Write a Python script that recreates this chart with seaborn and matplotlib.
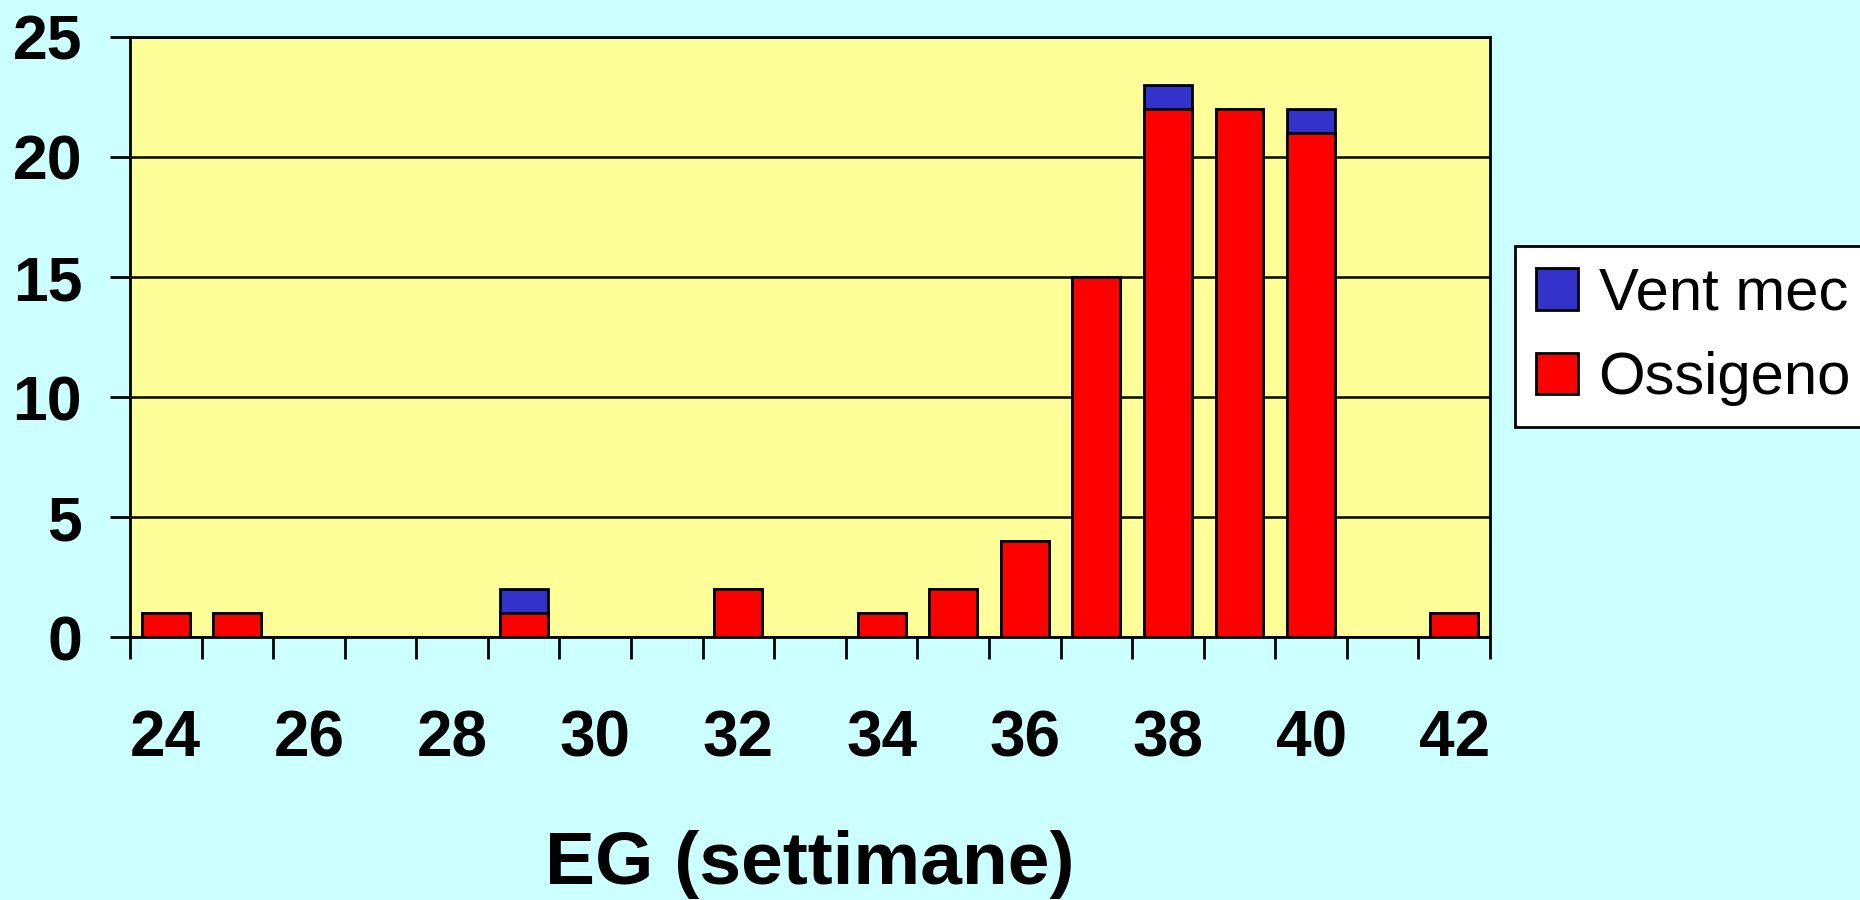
import pandas as pd
import numpy as np
import matplotlib
matplotlib.use("Agg")
import matplotlib.pyplot as plt
import seaborn as sns
from matplotlib.patches import Patch

# Data
settimane = list(range(24, 43))
ossigeno = [1, 1, 0, 0, 0, 1, 0, 0, 2, 0, 1, 2, 4, 15, 22, 22, 21, 0, 1]
vent_mec = [0, 0, 0, 0, 0, 1, 0, 0, 0, 0, 0, 0, 0, 0, 1, 0, 1, 0, 0]
tick_labels = [str(w) for w in settimane[::2]]

df = pd.DataFrame({
    'EG': [str(w) for w in settimane],
    'Ossigeno': ossigeno,
    'Vent mec': vent_mec,
})
df['Totale'] = df['Ossigeno'] + df['Vent mec']

sns.set_theme(style="white")
plt.rcParams['font.family'] = ['Liberation Sans', 'DejaVu Sans']
plt.rcParams['text.color'] = 'black'
plt.rcParams['axes.labelcolor'] = 'black'
plt.rcParams['xtick.color'] = 'black'
plt.rcParams['ytick.color'] = 'black'

fig = plt.figure(figsize=(18.6, 9), dpi=100, facecolor='#CCFFFF')
ax = fig.add_axes([0.0699, 0.2922, 0.7312, 0.6667])
ax.set_facecolor('#FFFF99')

order = df['EG'].tolist()
# stacked: draw total in blue, then oxygen on top in red
sns.barplot(data=df, x='EG', y='Totale', order=order, color='#3333CC',
            width=0.67, edgecolor='black', linewidth=2, saturation=1, ax=ax, zorder=3)
sns.barplot(data=df, x='EG', y='Ossigeno', order=order, color='#FF0000',
            width=0.67, edgecolor='black', linewidth=2, saturation=1, ax=ax, zorder=4)

# hide zero-height bars' outlines
for p in ax.patches:
    if p.get_height() == 0:
        p.set_visible(False)

ax.set_xlim(-0.5, len(order) - 0.5)
ax.set_ylim(0, 25)
ax.set_yticks(range(0, 26, 5))
ax.yaxis.grid(True, color='black', linewidth=1.8, zorder=1)
ax.set_axisbelow(True)

ax.set_xticks(np.arange(-0.5, len(order), 1.0))
ax.set_xticklabels([])
ax.set_xticks(np.arange(0, len(order), 2), minor=True)
ax.set_xticklabels(tick_labels, minor=True)
ax.tick_params(axis='x', which='major', direction='out', length=16, width=2, bottom=True)
ax.tick_params(axis='x', which='minor', length=0, pad=52, labelsize=46)
ax.tick_params(axis='y', direction='out', length=14.4, width=2, pad=20, labelsize=45, left=True)
for lbl in ax.get_xticklabels(minor=True) + ax.get_yticklabels():
    lbl.set_fontweight('bold')

for s in ax.spines.values():
    s.set_visible(True)
    s.set_color('black')
    s.set_linewidth(2)

ax.set_ylabel('')
ax.set_xlabel('EG (settimane)', fontsize=54, fontweight='bold', labelpad=44)

handles = [Patch(facecolor='#3333CC', edgecolor='black', linewidth=2, label='Vent mec'),
           Patch(facecolor='#FF0000', edgecolor='black', linewidth=2, label='Ossigeno')]
leg = fig.legend(handles=handles, loc='upper left', bbox_to_anchor=(0.8145, 0.727),
                 prop={'size': 43},
                 frameon=True, fancybox=False, edgecolor='black', facecolor='white',
                 framealpha=1, handlelength=0.7, handleheight=0.7, handletextpad=0.35,
                 borderpad=0.35, labelspacing=0.5, borderaxespad=0)
leg.get_frame().set_linewidth(2)

fig.savefig('out.png', dpi=100, facecolor=fig.get_facecolor())
